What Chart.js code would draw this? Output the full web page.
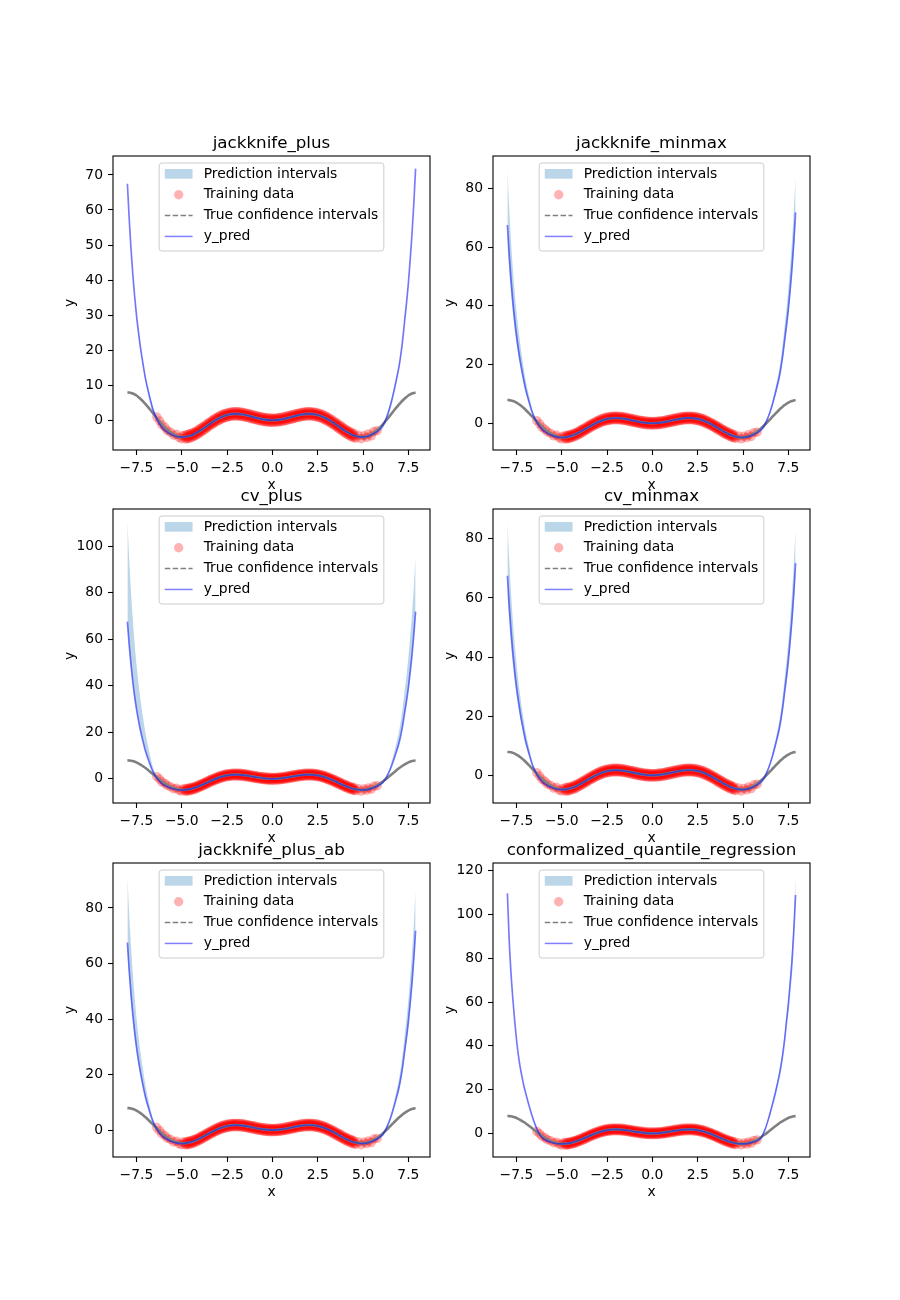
<!DOCTYPE html>
<html>
<head>
<meta charset="utf-8">
<script src="https://cdn.jsdelivr.net/npm/chart.js@4.4.1/dist/chart.umd.min.js"></script>
<style>
  html, body { margin: 0; padding: 0; background: #fff; }
  #fig { position: relative; width: 900px; height: 1300px; }
  .panel { position: absolute; }
</style>
</head>
<body>
<div id="fig"></div>
<script>
// x positions of the test grid (curves and bands)
const xGrid = [-8, -7.9, -7.8, -7.7, -7.6, -7.5, -7.4, -7.3, -7.2, -7.1, -7, -6.8, -6.6, -6.4, -6.2, -6,
  -5.5, -5, -4.5, -4, -3.5, -3, -2.5, -2, -1.5, -1, -0.5, 0, 0.5, 1, 1.5, 2, 2.5, 3, 3.5, 4, 4.5, 5, 5.5, 6,
  6.2, 6.4, 6.6, 6.8, 7, 7.1, 7.2, 7.3, 7.4, 7.5, 7.6, 7.7, 7.8, 7.9];

// true curve (grey)
const trueY = [7.91, 7.89, 7.79, 7.61, 7.36, 7.04, 6.65, 6.21, 5.71, 5.18, 4.6, 3.36, 2.06, 0.75, -0.52, -1.68,
  -3.88, -4.79, -4.4, -3.03, -1.23, 0.42, 1.5, 1.82, 1.5, 0.84, 0.24, 0, 0.24, 0.84, 1.5, 1.82, 1.5, 0.42, -1.23, -3.03, -4.4, -4.79, -3.88, -1.68,
  -0.52, 0.75, 2.06, 3.36, 4.6, 5.18, 5.71, 6.21, 6.65, 7.04, 7.36, 7.61, 7.79, 7.89];

// y_pred (same model for the first five methods)
const predY = [67.5, 57.4, 48.8, 41.5, 35.3, 30, 25.5, 21.5, 18, 14.8, 11.8, 7.2, 3.2, 0.6, -1.3, -2.6,
  -4.3, -4.85, -4.35, -3, -1.25, 0.4, 1.48, 1.8, 1.48, 0.83, 0.24, 0, 0.24, 0.84, 1.5, 1.82, 1.5, 0.42, -1.22, -3.02, -4.4, -4.85, -4.1, -2.2,
  -0.5, 2.3, 6, 10.6, 15.8, 19.3, 23.5, 28.6, 33.5, 39, 45.7, 53, 61.7, 71.8];

// y_pred for conformalized_quantile_regression
const predCqr = [109.7, 88, 73, 61.5, 51.5, 43, 36, 30.5, 26, 22, 18.7, 12.5, 7, 2.5, -0.8, -2.6,
  -4.3, -4.85, -4.35, -3, -1.25, 0.4, 1.48, 1.8, 1.48, 0.83, 0.24, 0, 0.24, 0.84, 1.5, 1.82, 1.5, 0.42, -1.22, -3.02, -4.4, -4.85, -4.1, -2,
  1.5, 6.5, 12.5, 19, 26.5, 31, 36.5, 43, 51, 58.5, 68, 78, 92, 108.9];

// prediction interval bounds, one pair per method
const jkPlusLow = [66.8, 56.7, 48.1, 40.8, 34.6, 29.3, 24.8, 20.8, 17.3, 14.1, 11.1, 6.5, 2.5, -0.1, -2, -3.3,
  -5, -5.55, -5.05, -3.7, -1.95, -0.3, 0.78, 1.1, 0.78, 0.13, -0.46, -0.7, -0.46, 0.14, 0.8, 1.12, 0.8, -0.28, -1.92, -3.72, -5.1, -5.55, -4.8, -2.9,
  -1.2, 1.6, 5.3, 9.9, 15.1, 18.6, 22.8, 27.9, 32.8, 38.3, 45, 52.3, 61, 71.1];
const jkPlusUp = [68.2, 58.1, 49.5, 42.2, 36, 30.7, 26.2, 22.2, 18.7, 15.5, 12.5, 7.9, 3.9, 1.3, -0.6, -1.9,
  -3.6, -4.15, -3.65, -2.3, -0.55, 1.1, 2.18, 2.5, 2.18, 1.53, 0.94, 0.7, 0.94, 1.54, 2.2, 2.52, 2.2, 1.12, -0.52, -2.32, -3.7, -4.15, -3.4, -1.5,
  0.2, 3, 6.7, 11.3, 16.5, 20, 24.2, 29.3, 34.2, 39.7, 46.4, 53.7, 62.4, 72.5];

const jkMinmaxLow = [60.8, 51.7, 43.9, 37.4, 31.8, 27, 23, 19.4, 16.2, 13.3, 10.6, 6.5, 2.9, -0.1, -2, -3.3,
  -5, -5.55, -5.05, -3.7, -1.95, -0.3, 0.78, 1.1, 0.78, 0.13, -0.46, -0.7, -0.46, 0.14, 0.8, 1.12, 0.8, -0.28, -1.92, -3.72, -5.1, -5.55, -4.8, -2.9,
  -1.2, 1.8, 5.4, 9.8, 14.7, 17.9, 21.9, 26.6, 31.2, 36.3, 42.5, 49.3, 57.4, 66.8];
const jkMinmaxUp = [86.2, 72.9, 62, 52.7, 44.8, 38.1, 32.4, 27.3, 22.9, 18.8, 15, 9.1, 4.2, 1.4, -0.6, -1.9,
  -3.6, -4.15, -3.65, -2.3, -0.55, 1.1, 2.18, 2.5, 2.18, 1.53, 0.94, 0.7, 0.94, 1.54, 2.2, 2.52, 2.2, 1.12, -0.52, -2.32, -3.7, -4.15, -3.4, -1.5,
  0.3, 2.9, 7, 12.4, 18.5, 22.6, 27.5, 33.5, 39.2, 45.6, 53.5, 62, 72.2, 84];

const cvPlusLow = [65.5, 55.7, 47.3, 40.3, 34.2, 29.1, 24.7, 20.9, 17.5, 14.4, 11.4, 7, 2.8, 0, -2, -3.3,
  -5, -5.55, -5.05, -3.7, -1.95, -0.3, 0.78, 1.1, 0.78, 0.13, -0.46, -0.7, -0.46, 0.14, 0.8, 1.12, 0.8, -0.28, -1.92, -3.72, -5.1, -5.55, -4.8, -2.9,
  -1.2, 1.9, 5.8, 10.3, 15.3, 18.7, 22.8, 27.7, 32.5, 37.8, 44.3, 51.4, 59.8, 69.6];
const cvPlusUp = [110.6, 94.1, 80, 68.1, 57.9, 49.2, 41.8, 35.3, 29.5, 24.3, 19.4, 11.8, 5.2, 1.6, -0.6, -1.9,
  -3.6, -4.15, -3.65, -2.3, -0.55, 1.1, 2.18, 2.5, 2.18, 1.53, 0.94, 0.7, 0.94, 1.54, 2.2, 2.52, 2.2, 1.12, -0.52, -2.32, -3.7, -4.15, -3.4, -1.5,
  0.3, 3.1, 8, 14.1, 21, 25.7, 31.3, 38, 44.6, 51.9, 60.8, 70.5, 82.1, 95.6];

const cvMinmaxLow = [60.8, 51.7, 43.9, 37.4, 31.8, 27, 23, 19.4, 16.2, 13.3, 10.6, 6.5, 2.9, -0.1, -2, -3.3,
  -5, -5.55, -5.05, -3.7, -1.95, -0.3, 0.78, 1.1, 0.78, 0.13, -0.46, -0.7, -0.46, 0.14, 0.8, 1.12, 0.8, -0.28, -1.92, -3.72, -5.1, -5.55, -4.8, -2.9,
  -1.2, 1.8, 5.4, 9.8, 14.7, 17.9, 21.9, 26.6, 31.2, 36.3, 42.5, 49.3, 57.4, 66.8];
const cvMinmaxUp = [85.4, 72.6, 61.7, 52.5, 44.6, 37.9, 32.2, 27.2, 22.8, 18.7, 14.9, 9.1, 4.1, 1.4, -0.6, -1.9,
  -3.6, -4.15, -3.65, -2.3, -0.55, 1.1, 2.18, 2.5, 2.18, 1.53, 0.94, 0.7, 0.94, 1.54, 2.2, 2.52, 2.2, 1.12, -0.52, -2.32, -3.7, -4.15, -3.4, -1.5,
  0.3, 2.9, 6.9, 12.3, 18.3, 22.3, 27.2, 33.1, 38.8, 45.1, 52.9, 61.3, 71.4, 83.1];

const jkAbLow = [64.1, 54.5, 46.4, 39.4, 33.5, 28.5, 24.2, 20.4, 17.1, 14.1, 11.2, 6.8, 2.7, -0.1, -2, -3.3,
  -5, -5.55, -5.05, -3.7, -1.95, -0.3, 0.78, 1.1, 0.78, 0.13, -0.46, -0.7, -0.46, 0.14, 0.8, 1.12, 0.8, -0.28, -1.92, -3.72, -5.1, -5.55, -4.8, -2.9,
  -1.2, 1.8, 5.6, 10.1, 15, 18.3, 22.3, 27.2, 31.8, 37, 43.4, 50.4, 58.6, 68.2];
const jkAbUp = [91.3, 77.5, 65.9, 56, 47.7, 40.5, 34.4, 29, 24.3, 20, 15.9, 9.7, 4.3, 1.5, -0.6, -1.9,
  -3.6, -4.15, -3.65, -2.3, -0.55, 1.1, 2.18, 2.5, 2.18, 1.53, 0.94, 0.7, 0.94, 1.54, 2.2, 2.52, 2.2, 1.12, -0.52, -2.32, -3.7, -4.15, -3.4, -1.5,
  0.3, 2.9, 7.2, 12.7, 19, 23.2, 28.2, 34.3, 40.2, 46.8, 54.8, 63.6, 74, 86.5];

const cqrLow = [107.5, 86.2, 71.5, 60.3, 50.5, 42.1, 35.3, 29.9, 25.5, 21.6, 18.3, 12.2, 6.6, 1.8, -1.5, -3.3,
  -5, -5.55, -5.05, -3.7, -1.95, -0.3, 0.78, 1.1, 0.78, 0.13, -0.46, -0.7, -0.46, 0.14, 0.8, 1.12, 0.8, -0.28, -1.92, -3.72, -5.1, -5.55, -4.8, -2.7,
  0.8, 5.8, 11.8, 18.2, 25.8, 30.3, 35.6, 42, 49.8, 57.2, 66.5, 76.3, 90, 106.7];
const cqrUp = [111, 89, 73.8, 62.2, 52.1, 43.5, 36.5, 31, 26.5, 22.5, 19.2, 13, 7.5, 3, -0.2, -1.9,
  -3.6, -4.15, -3.65, -2.3, -0.55, 1.1, 2.18, 2.5, 2.18, 1.53, 0.94, 0.7, 0.94, 1.54, 2.2, 2.52, 2.2, 1.12, -0.52, -2.32, -3.7, -4.15, -3.4, -1.3,
  2.2, 7.3, 13.5, 20.5, 28.5, 33.4, 39.3, 46.3, 54.9, 63, 73.2, 84, 99.1, 117.3];

// training data: scattered tails plus a dense core (three points per x)
const trainTailX = [-6.38, -6.22, -6.1, -5.93, -5.8, -5.62, -5.45, -5.3, -5.15, -5.02, -4.95,
  4.6, 4.75, 4.9, 5.05, 5.2, 5.3, 5.45, 5.6, 5.78];
const trainTailY = [0.9, -0.2, -1.3, -2.0, -2.9, -3.4, -4.3, -4.0, -4.9, -5.3, -4.4,
  -5.1, -4.3, -5.3, -4.4, -4.9, -3.9, -4.5, -3.2, -3.0];
const trainCoreX = [-4.8, -4.7, -4.6, -4.5, -4.4, -4.3, -4.2, -4.1, -4, -3.9, -3.8, -3.7, -3.6, -3.5, -3.4, -3.3,
  -3.2, -3.1, -3, -2.9, -2.8, -2.7, -2.6, -2.5, -2.4, -2.3, -2.2, -2.1, -2, -1.9, -1.8, -1.7, -1.6, -1.5, -1.4,
  -1.3, -1.2, -1.1, -1, -0.9, -0.8, -0.7, -0.6, -0.5, -0.4, -0.3, -0.2, -0.1, 0, 0.1, 0.2, 0.3, 0.4, 0.5, 0.6,
  0.7, 0.8, 0.9, 1, 1.1, 1.2, 1.3, 1.4, 1.5, 1.6, 1.7, 1.8, 1.9, 2, 2.1, 2.2, 2.3, 2.4, 2.5, 2.6, 2.7, 2.8,
  2.9, 3, 3.1, 3.2, 3.3, 3.4, 3.5, 3.6, 3.7, 3.8, 3.9, 4, 4.1, 4.2, 4.3, 4.4, 4.5];
const trainCoreHigh = [-4.2, -4.1, -3.95, -3.8, -3.6, -3.35, -3.1, -2.8, -2.4, -2.1, -1.75, -1.4, -1, -0.65, -0.3, 0.05,
  0.4, 0.7, 1, 1.3, 1.55, 1.75, 1.95, 2.1, 2.2, 2.3, 2.4, 2.4, 2.4, 2.4, 2.35, 2.3, 2.2, 2.1, 1.95,
  1.85, 1.7, 1.55, 1.45, 1.3, 1.15, 1.05, 0.95, 0.85, 0.75, 0.7, 0.65, 0.6, 0.6, 0.6, 0.6, 0.7, 0.8, 0.8, 0.9,
  1.05, 1.2, 1.3, 1.4, 1.6, 1.75, 1.85, 1.95, 2.1, 2.2, 2.3, 2.35, 2.4, 2.45, 2.4, 2.35, 2.3, 2.25, 2.1, 1.9, 1.75, 1.55,
  1.3, 1, 0.7, 0.4, 0.05, -0.25, -0.65, -1, -1.35, -1.7, -2.1, -2.45, -2.75, -3.05, -3.35, -3.6, -3.8];
const trainCoreMid = [-4.85, -4.75, -4.5, -4.35, -4.25, -3.9, -3.6, -3.4, -3.1, -2.65, -2.3, -2, -1.65, -1.2, -0.85, -0.55,
  -0.25, 0.15, 0.45, 0.7, 0.9, 1.1, 1.4, 1.5, 1.6, 1.7, 1.8, 1.85, 1.85, 1.75, 1.7, 1.7, 1.65, 1.45, 1.35,
  1.3, 1.1, 0.95, 0.8, 0.7, 0.6, 0.45, 0.3, 0.2, 0.2, 0.1, 0, 0, 0.05, 0.05, 0.05, 0.1, 0.15, 0.25, 0.35,
  0.4, 0.55, 0.7, 0.85, 1, 1.1, 1.25, 1.4, 1.5, 1.55, 1.7, 1.8, 1.8, 1.8, 1.8, 1.8, 1.75, 1.6, 1.5, 1.35, 1.15, 0.95,
  0.7, 0.4, 0.1, -0.2, -0.5, -0.9, -1.25, -1.6, -1.95, -2.35, -2.7, -3, -3.35, -3.7, -3.95, -4.2, -4.4];
const trainCoreLow = [-5.35, -5.3, -5.2, -5, -4.8, -4.55, -4.3, -3.95, -3.6, -3.3, -2.95, -2.55, -2.2, -1.8, -1.45, -1.1,
  -0.8, -0.45, -0.2, 0.1, 0.35, 0.55, 0.75, 0.9, 1, 1.1, 1.2, 1.2, 1.2, 1.2, 1.15, 1.1, 1, 0.9, 0.8,
  0.65, 0.5, 0.4, 0.25, 0.1, 0, -0.15, -0.25, -0.35, -0.45, -0.5, -0.55, -0.6, -0.6, -0.55, -0.55, -0.5, -0.45, -0.35, -0.25,
  -0.15, 0, 0.1, 0.25, 0.4, 0.5, 0.65, 0.8, 0.9, 1, 1.1, 1.15, 1.2, 1.2, 1.2, 1.2, 1.1, 1, 0.9, 0.75, 0.55, 0.35,
  0.1, -0.2, -0.45, -0.8, -1.1, -1.45, -1.8, -2.2, -2.55, -2.9, -3.3, -3.65, -3.95, -4.25, -4.55, -4.8, -5];

const xTicks = [-7.5, -5, -2.5, 0, 2.5, 5, 7.5];

const panels = [
  { title: 'jackknife_plus', pred: predY, low: jkPlusLow, up: jkPlusUp, yMin: -8.5, yMax: 75.4, yTicks: [0, 10, 20, 30, 40, 50, 60, 70], col: 0, row: 0 },
  { title: 'jackknife_minmax', pred: predY, low: jkMinmaxLow, up: jkMinmaxUp, yMin: -9.1, yMax: 91.0, yTicks: [0, 20, 40, 60, 80], col: 1, row: 0 },
  { title: 'cv_plus', pred: predY, low: cvPlusLow, up: cvPlusUp, yMin: -10.4, yMax: 115.9, yTicks: [0, 20, 40, 60, 80, 100], col: 0, row: 1 },
  { title: 'cv_minmax', pred: predY, low: cvMinmaxLow, up: cvMinmaxUp, yMin: -9.35, yMax: 90.1, yTicks: [0, 20, 40, 60, 80], col: 1, row: 1 },
  { title: 'jackknife_plus_ab', pred: predY, low: jkAbLow, up: jkAbUp, yMin: -9.7, yMax: 96.2, yTicks: [0, 20, 40, 60, 80], col: 0, row: 2 },
  { title: 'conformalized_quantile_regression', pred: predCqr, low: cqrLow, up: cqrUp, yMin: -10.8, yMax: 123.5, yTicks: [0, 20, 40, 60, 80, 100, 120], col: 1, row: 2 }
];

const legendItems = ['Prediction intervals', 'Training data', 'True confidence intervals', 'y_pred'];

// geometry of the axes boxes (matplotlib 3x2 grid on a 9x13 inch figure)
const colLeft = [113, 493];
const rowTop = [156, 509, 863];
const AX_W = 317, AX_H = 294;
const PAD_L = 60, PAD_T = 30, PAD_R = 20, PAD_B = 48;
const Y_W = 51, X_H = 44;

const FONT = 'DejaVu Sans';
const tickFont = { family: FONT, size: 13.9 };
const BAND = 'rgba(31, 119, 180, 0.3)';
const RED = 'rgba(255, 0, 0, 0.3)';
const BLUE = 'rgba(0, 0, 255, 0.5)';
const GREY = '#808080';

Chart.defaults.font.family = FONT;

const toPts = arr => xGrid.map((x, i) => ({ x: x, y: arr[i] }));

const trainPts = [];
trainTailX.forEach((x, i) => trainPts.push({ x: x, y: trainTailY[i] }));
trainCoreX.forEach((x, i) => {
    trainPts.push({ x: x, y: trainCoreHigh[i] });
    trainPts.push({ x: x, y: trainCoreMid[i] });
    trainPts.push({ x: x, y: trainCoreLow[i] });
});

// frame, title and in-axes legend
const panelDecor = {
    id: 'panelDecor',
    afterDraw(chart, args, opts) {
        const ctx = chart.ctx;
        const a = chart.chartArea;
        ctx.save();

        ctx.strokeStyle = '#000';
        ctx.lineWidth = 1.1;
        ctx.strokeRect(a.left, a.top, a.right - a.left, a.bottom - a.top);

        ctx.fillStyle = '#000';
        ctx.font = '16.7px "' + FONT + '"';
        ctx.textAlign = 'center';
        ctx.textBaseline = 'alphabetic';
        ctx.fillText(opts.title, (a.left + a.right) / 2, a.top - 8.3);

        // legend box
        ctx.font = '13.9px "' + FONT + '"';
        const textW = Math.max(...legendItems.map(t => ctx.measureText(t).width));
        const w = 44.5 + textW + 5.6;
        const h = 88;
        const lx = (a.left + a.right) / 2 - w / 2;
        const ly = a.top + 7;
        ctx.beginPath();
        ctx.roundRect(lx, ly, w, h, 2.8);
        ctx.fillStyle = 'rgba(255, 255, 255, 0.8)';
        ctx.fill();
        ctx.strokeStyle = '#cccccc';
        ctx.lineWidth = 1;
        ctx.stroke();

        const hx0 = lx + 5.6, hx1 = lx + 33.4;
        legendItems.forEach((label, i) => {
            const cy = ly + 10.9 + i * 20.85;
            if (i === 0) {
                ctx.fillStyle = BAND;
                ctx.fillRect(hx0, cy - 4.9, hx1 - hx0, 9.7);
            } else if (i === 1) {
                ctx.fillStyle = RED;
                ctx.beginPath();
                ctx.arc((hx0 + hx1) / 2, cy, 4.7, 0, Math.PI * 2);
                ctx.fill();
            } else {
                ctx.beginPath();
                ctx.lineWidth = 1.5;
                ctx.strokeStyle = i === 2 ? GREY : BLUE;
                ctx.setLineDash(i === 2 ? [5.5, 2.4] : []);
                ctx.moveTo(hx0, cy);
                ctx.lineTo(hx1, cy);
                ctx.stroke();
                ctx.setLineDash([]);
            }
            ctx.fillStyle = '#000';
            ctx.textAlign = 'left';
            ctx.textBaseline = 'middle';
            ctx.fillText(label, lx + 44.5, cy);
        });
        ctx.restore();
    }
};

const fig = document.getElementById('fig');

panels.forEach(p => {
    const wrap = document.createElement('div');
    wrap.className = 'panel';
    wrap.style.left = (colLeft[p.col] - PAD_L) + 'px';
    wrap.style.top = (rowTop[p.row] - PAD_T) + 'px';
    const canvas = document.createElement('canvas');
    canvas.width = PAD_L + AX_W + PAD_R;
    canvas.height = PAD_T + AX_H + PAD_B;
    canvas.style.width = canvas.width + 'px';
    canvas.style.height = canvas.height + 'px';
    wrap.appendChild(canvas);
    fig.appendChild(wrap);

    new Chart(canvas, {
        type: 'line',
        data: {
            datasets: [
                { label: 'lower', data: toPts(p.low), borderColor: 'rgba(0,0,0,0)', borderWidth: 0, pointRadius: 0, fill: false, order: 4, cubicInterpolationMode: 'monotone' },
                { label: 'Prediction intervals', data: toPts(p.up), borderColor: 'rgba(0,0,0,0)', borderWidth: 0, pointRadius: 0, backgroundColor: BAND, fill: '-1', order: 4, cubicInterpolationMode: 'monotone' },
                { label: 'Training data', data: trainPts, showLine: false, pointRadius: 4.7, pointBackgroundColor: RED, pointBorderWidth: 0, order: 3 },
                { label: 'True confidence intervals', data: toPts(trueY), borderColor: GREY, borderWidth: 2.6, pointRadius: 0, fill: false, order: 2, cubicInterpolationMode: 'monotone' },
                { label: 'y_pred', data: toPts(p.pred), borderColor: BLUE, borderWidth: 1.7, pointRadius: 0, fill: false, order: 1, cubicInterpolationMode: 'monotone' }
            ]
        },
        options: {
            responsive: false,
            animation: false,
            devicePixelRatio: 1,
            events: [],
            layout: { padding: { left: PAD_L - Y_W, top: PAD_T, right: PAD_R, bottom: PAD_B - X_H } },
            plugins: {
                legend: { display: false },
                tooltip: { enabled: false },
                panelDecor: { title: p.title }
            },
            scales: {
                x: {
                    type: 'linear',
                    min: -8.795,
                    max: 8.695,
                    afterBuildTicks: s => { s.ticks = xTicks.map(v => ({ value: v })); },
                    afterFit: s => { s.height = X_H; },
                    ticks: {
                        autoSkip: false,
                        maxRotation: 0,
                        padding: 5,
                        color: '#000',
                        font: tickFont,
                        callback: v => (v < 0 ? '\u2212' + (-v).toFixed(1) : v.toFixed(1))
                    },
                    grid: { drawOnChartArea: false, drawTicks: true, tickLength: 5, tickColor: '#000', tickWidth: 1.1 },
                    border: { display: false },
                    title: { display: true, text: 'x', color: '#000', font: tickFont, padding: 0 }
                },
                y: {
                    type: 'linear',
                    min: p.yMin,
                    max: p.yMax,
                    afterBuildTicks: s => { s.ticks = p.yTicks.map(v => ({ value: v })); },
                    afterFit: s => { s.width = Y_W; },
                    ticks: {
                        autoSkip: false,
                        padding: 5,
                        color: '#000',
                        font: tickFont,
                        callback: v => String(v)
                    },
                    grid: { drawOnChartArea: false, drawTicks: true, tickLength: 5, tickColor: '#000', tickWidth: 1.1 },
                    border: { display: false },
                    title: { display: true, text: 'y', color: '#000', font: tickFont, padding: 0 }
                }
            }
        },
        plugins: [panelDecor]
    });
});
</script>
</body>
</html>
